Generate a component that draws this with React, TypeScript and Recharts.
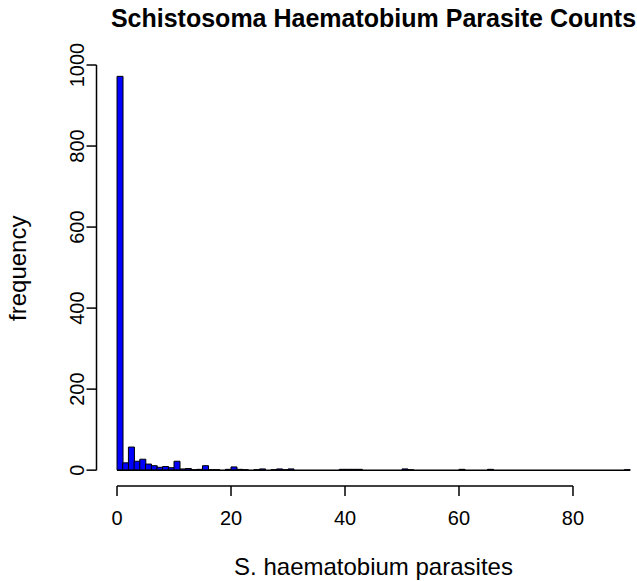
import React from 'react';
import { BarChart, Bar, XAxis, YAxis, ReferenceLine, Label } from 'recharts';

// parasite count bins of width 1, from 0 to 90
const binStarts = Array.from({ length: 90 }, (_, i) => i);
const counts = [
  972, 18, 57, 22, 27, 15, 11, 7, 9, 6,
  22, 3, 4, 1, 2, 11, 1, 1, 0, 2,
  8, 2, 1, 0, 1, 3, 0, 1, 3, 1,
  3, 0, 0, 0, 0, 0, 0, 0, 0, 2,
  2, 2, 2, 0, 0, 0, 0, 0, 0, 0,
  3, 1, 0, 0, 0, 0, 0, 0, 0, 0,
  2, 0, 0, 0, 0, 2, 0, 0, 0, 0,
  0, 0, 0, 0, 0, 0, 0, 0, 0, 0,
  0, 0, 0, 0, 0, 0, 0, 0, 0, 1,
];
const xTicks = [0, 20, 40, 60, 80];
const yTicks = [0, 200, 400, 600, 800, 1000];

// R-style axis ranges: 4% padding around data range
const xDomain = [-3.6, 93.6];
const yDomain = [-38.88, 1010.88];

const data = binStarts.map((b, i) => ({ mid: b + 0.5, count: counts[i] }));

const FONT = '"Liberation Sans", Arial, sans-serif';

const YTick = (props: any) => {
  const { x, y, payload } = props;
  const tx = x - 2;
  return (
    <text
      x={tx}
      y={y}
      transform={`rotate(-90 ${tx} ${y})`}
      textAnchor="middle"
      fontSize={20}
      fontFamily={FONT}
      fill="#000"
    >
      {payload.value}
    </text>
  );
};

const XTitle = (props: any) => {
  const { viewBox } = props;
  return (
    <text
      x={viewBox.x + viewBox.width / 2}
      y={viewBox.y + 89}
      textAnchor="middle"
      fontSize={24}
      fontFamily={FONT}
      fill="#000"
    >
      S. haematobium parasites
    </text>
  );
};

const YTitle = (props: any) => {
  const { viewBox } = props;
  const cx = viewBox.x + 26;
  const cy = viewBox.y + viewBox.height / 2 - 5;
  return (
    <text
      x={cx}
      y={cy}
      transform={`rotate(-90 ${cx} ${cy})`}
      textAnchor="middle"
      fontSize={24}
      fontFamily={FONT}
      fill="#000"
    >
      frequency
    </text>
  );
};

export default function App() {
  return (
    <div
      style={{
        position: 'absolute',
        left: 0,
        top: 0,
        width: 637,
        height: 581,
        overflow: 'hidden',
        background: '#fff',
      }}
    >
      <div
        style={{
          position: 'absolute',
          left: 96.5,
          width: 554,
          top: 6.2,
          textAlign: 'center',
          fontFamily: FONT,
          fontWeight: 'bold',
          fontSize: 25,
          lineHeight: '25px',
          color: '#000',
          whiteSpace: 'nowrap',
        }}
      >
        Schistosoma Haematobium Parasite Counts
      </div>
      <BarChart
        width={660}
        height={581}
        data={data}
        margin={{ top: 60.6, right: 9.5, bottom: 0, left: 0 }}
        barCategoryGap={0}
        barGap={0}
      >
        <XAxis
          dataKey="mid"
          type="number"
          domain={xDomain}
          ticks={xTicks}
          allowDataOverflow
          height={95.1}
          axisLine={false}
          tickSize={10}
          tickMargin={15}
          tickLine={{ stroke: '#000', strokeWidth: 1.5 }}
          tick={{ fill: '#000', fontSize: 20, fontFamily: FONT }}
        >
          <Label content={<XTitle />} />
        </XAxis>
        <YAxis
          type="number"
          domain={yDomain}
          ticks={yTicks}
          allowDataOverflow
          width={96.5}
          axisLine={false}
          tickSize={10}
          tickMargin={0}
          tickLine={{ stroke: '#000', strokeWidth: 1.5 }}
          tick={<YTick />}
        >
          <Label content={<YTitle />} />
        </YAxis>
        <ReferenceLine
          segment={[{ x: 0, y: yDomain[0] }, { x: 80, y: yDomain[0] }]}
          stroke="#000"
          strokeWidth={1.5}
          ifOverflow="visible"
        />
        <ReferenceLine
          segment={[{ x: xDomain[0], y: 0 }, { x: xDomain[0], y: 1000 }]}
          stroke="#000"
          strokeWidth={1.5}
          ifOverflow="visible"
        />
        <ReferenceLine
          segment={[{ x: 0, y: 0 }, { x: 90, y: 0 }]}
          stroke="#000"
          strokeWidth={1.5}
          ifOverflow="visible"
        />
        <Bar
          dataKey="count"
          fill="#0000FF"
          stroke="#000"
          strokeWidth={1}
          isAnimationActive={false}
        />
      </BarChart>
    </div>
  );
}
